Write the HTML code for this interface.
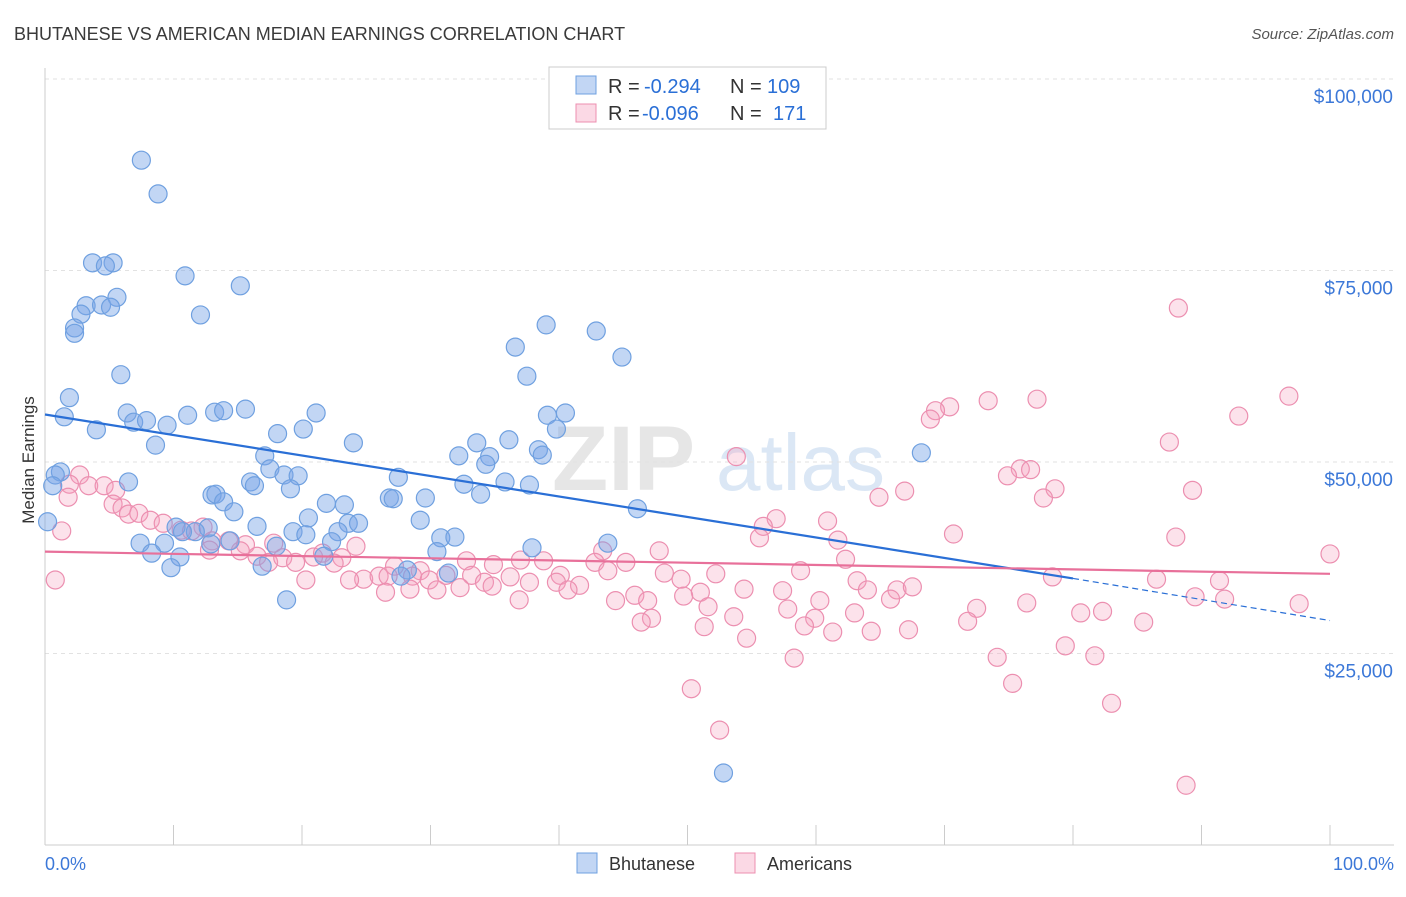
<!DOCTYPE html>
<html><head><meta charset="utf-8">
<style>
body{margin:0;background:#fff;font-family:"Liberation Sans",sans-serif;}
svg text{font-family:"Liberation Sans",sans-serif;}
</style></head>
<body>
<svg id="chart" width="1406" height="892" xmlns="http://www.w3.org/2000/svg">
<text x="14" y="40" font-size="18" fill="#3a3a3a">BHUTANESE VS AMERICAN MEDIAN EARNINGS CORRELATION CHART</text>
<text x="1394" y="39" font-size="15" fill="#555" text-anchor="end" font-style="italic">Source: ZipAtlas.com</text>
<g>
<text x="552" y="490" font-size="92" fill="#e6e6e6" font-family="Liberation Serif" font-weight="bold">ZIP</text>
<text x="716" y="490" font-size="80" fill="#dbe7f5">atlas</text>
</g>
<g id="grid"></g>
<g id="axes"></g>
<g id="points"></g>
<g id="trends"></g>
<text transform="translate(34,460) rotate(-90)" font-size="17" fill="#333" text-anchor="middle">Median Earnings</text>
<g>
<rect x="549" y="67" width="277" height="62" fill="#fff" stroke="#ccc"/>
<rect x="576" y="76" width="20" height="18" fill="rgba(120,165,230,0.45)" stroke="#6fa0e0"/>
<rect x="576" y="104" width="20" height="18" fill="rgba(245,160,190,0.4)" stroke="#ec8fb0"/>
<text x="608" y="93" font-size="20" fill="#333">R =</text>
<text x="644" y="93" font-size="20" fill="#2a6fd6">-0.294</text>
<text x="730" y="93" font-size="20" fill="#333">N =</text>
<text x="767" y="93" font-size="20" fill="#2a6fd6">109</text>
<text x="608" y="120" font-size="20" fill="#333">R =</text>
<text x="642" y="120" font-size="20" fill="#2a6fd6">-0.096</text>
<text x="730" y="120" font-size="20" fill="#333">N =</text>
<text x="773" y="120" font-size="20" fill="#2a6fd6">171</text>
</g>
<g>
<rect x="577" y="853" width="20" height="20" fill="rgba(120,165,230,0.45)" stroke="#6fa0e0"/>
<text x="609" y="870" font-size="18" fill="#333">Bhutanese</text>
<rect x="735" y="853" width="20" height="20" fill="rgba(245,160,190,0.4)" stroke="#ec8fb0"/>
<text x="767" y="870" font-size="18" fill="#333">Americans</text>
</g>
</svg>
<script>
const yTicks=[25000,50000,75000,100000];
const yTickLabels=["$25,000","$50,000","$75,000","$100,000"];
const xTickLabels=["0.0%","100.0%"];
const blueX=[7.5,8.8,3.7,5.3,4.7,10.9,15.2,5.6,3.2,4.4,5.1,2.8,12.1,2.3,2.3,39.0,42.9,36.6,44.9,5.9,37.5,1.9,1.5,6.4,13.2,15.6,13.9,11.1,21.1,6.9,7.9,9.5,39.1,40.5,4.0,18.1,20.1,39.8,8.6,24.0,33.6,36.1,38.4,38.7,34.6,32.2,34.3,17.1,68.2,1.2,0.8,0.6,6.5,17.5,18.6,19.7,27.5,35.8,37.7,16.0,16.3,19.1,32.6,33.9,13.0,13.3,13.9,21.9,23.3,26.8,27.1,29.6,14.7,46.1,20.5,29.2,23.6,24.4,0.2,10.2,12.7,16.5,19.3,20.3,22.8,11.7,10.7,30.8,31.9,7.4,9.3,12.9,14.4,18.0,22.3,43.8,37.9,8.3,10.5,30.5,16.9,21.7,28.2,27.7,9.8,31.4,18.8,52.8];
const blueY=[89.4,85.0,76.0,76.0,75.6,74.3,73.0,71.5,70.4,70.5,70.2,69.3,69.2,67.5,66.8,67.9,67.1,65.0,63.7,61.4,61.2,58.4,55.9,56.4,56.5,56.9,56.7,56.1,56.4,55.2,55.4,54.8,56.1,56.4,54.2,53.7,54.3,54.3,52.2,52.5,52.5,52.9,51.6,50.9,50.7,50.8,49.7,50.8,51.2,48.7,48.3,46.9,47.4,49.1,48.3,48.2,48.0,47.4,47.0,47.4,46.9,46.5,47.1,45.8,45.7,45.8,44.8,44.6,44.4,45.3,45.2,45.3,43.5,43.9,42.7,42.4,42.0,42.0,42.2,41.5,41.4,41.6,40.9,40.5,40.9,40.9,40.9,40.1,40.2,39.4,39.4,39.3,39.7,39.0,39.6,39.4,38.8,38.1,37.6,38.3,36.4,37.7,35.9,35.1,36.2,35.5,32.0,9.4];
const pinkX=[88.2,96.8,73.4,77.2,70.4,69.3,68.9,92.9,87.5,53.8,75.9,76.7,74.9,78.6,77.7,89.3,66.9,64.9,2.7,1.9,3.4,4.6,5.5,1.8,5.3,6.0,6.5,7.3,8.2,9.2,10.6,12.3,11.4,1.3,60.9,56.9,55.9,55.6,61.7,70.7,88.0,13.0,14.3,15.6,17.8,24.2,12.8,15.2,16.5,17.4,18.5,19.5,20.9,21.6,23.1,22.5,43.4,47.8,62.3,100,32.8,34.9,37.0,38.8,42.8,45.2,27.2,29.2,31.2,33.2,36.2,40.1,43.8,48.2,52.2,58.8,24.8,26.0,26.7,28.6,23.7,20.3,29.9,34.2,37.7,39.8,41.6,49.5,63.2,91.4,86.5,78.4,28.4,30.5,32.3,34.8,40.7,45.9,51.0,54.4,57.4,64.0,66.3,67.5,26.5,89.5,91.8,36.9,44.4,46.9,49.7,60.3,65.8,76.4,97.6,51.6,57.8,63.0,72.5,80.6,82.3,53.6,59.9,47.2,46.4,71.8,85.5,59.1,51.3,64.3,61.3,67.2,54.6,79.4,58.3,74.1,81.7,75.3,50.3,83.0,52.5,88.8,0.8];
const pinkY=[70.1,58.6,58.0,58.2,57.2,56.7,55.6,56.0,52.6,50.7,49.1,49.0,48.2,46.5,45.3,46.3,46.2,45.4,48.3,47.1,46.9,46.9,46.3,45.4,44.5,44.0,43.2,43.3,42.4,42.0,41.1,41.5,41.0,41.0,42.3,42.6,41.6,40.1,39.8,40.6,40.2,39.7,39.7,39.2,39.4,39.0,38.5,38.4,37.7,36.9,37.5,36.9,37.6,38.1,37.5,36.8,38.4,38.4,37.3,38.0,37.1,36.6,37.2,37.1,36.9,36.9,36.4,35.8,35.2,35.2,35.0,35.2,35.8,35.5,35.4,35.8,34.7,35.1,35.1,35.1,34.6,34.6,34.6,34.3,34.3,34.3,33.9,34.7,34.5,34.5,34.7,35.0,33.4,33.3,33.6,33.8,33.3,32.6,33.0,33.4,33.2,33.3,33.3,33.7,33.0,32.4,32.1,32.0,31.9,31.9,32.5,31.9,32.1,31.6,31.5,31.1,30.8,30.3,30.9,30.3,30.5,29.8,29.6,29.6,29.1,29.2,29.1,28.6,28.5,27.9,27.8,28.1,27.0,26.0,24.4,24.5,24.7,21.1,20.4,18.5,15.0,7.8,34.6];
const blueTrend=[[0,56.2],[80,34.8],[100,29.3]];
const pinkTrend=[[0,38.3],[100,35.4]];

const NS="http://www.w3.org/2000/svg";
const X0=45,X1=1330,Y0=845,YPER=191.5/25000;
const xs=p=>X0+(X1-X0)*p/100;
const ys=v=>Y0-v*YPER;
function mk(tag,attrs,parent){const e=document.createElementNS(NS,tag);for(const k in attrs)e.setAttribute(k,attrs[k]);parent.appendChild(e);return e;}
const grid=document.getElementById('grid'),axes=document.getElementById('axes'),pts=document.getElementById('points'),tr=document.getElementById('trends');
let gl=mk('line',{x1:45,x2:1394,y1:79,y2:79,stroke:'#ddd','stroke-dasharray':'4,4'},grid);


yTicks.forEach((v,i)=>{
 const l=mk('line',{x1:45,x2:1394,y1:ys(v),y2:ys(v),stroke:'#e2e2e2','stroke-dasharray':'4,4'},grid);
 
 
 const t=mk('text',{x:1393,y:ys(v)+24,'font-size':19,fill:'#3c78d8','text-anchor':'end'},axes);
 t.textContent=yTickLabels[i];
 
 
});
let ax=mk('line',{x1:45,x2:1394,y1:845,y2:845,stroke:'#ccc'},axes);


let ay=mk('line',{x1:45,x2:45,y1:68,y2:845,stroke:'#ccc'},axes);


for(let i=0;i<=10;i++){
 const tk=mk('line',{x1:xs(i*10),x2:xs(i*10),y1:825,y2:845,stroke:'#ccc'},axes);
 
 
}
const xl0=mk('text',{x:45,y:870,'font-size':18,fill:'#3c78d8'},axes);xl0.textContent=xTickLabels[0];


const xl1=mk('text',{x:1394,y:870,'font-size':18,fill:'#3c78d8','text-anchor':'end'},axes);xl1.textContent=xTickLabels[1];


pinkX.forEach((x,i)=>{
 const c=mk('circle',{cx:xs(x),cy:ys(pinkY[i]*1000),r:9,fill:'rgba(245,160,190,0.3)',stroke:'#ec8fb0','stroke-width':1.2},pts);
 
 
});
blueX.forEach((x,i)=>{
 const c=mk('circle',{cx:xs(x),cy:ys(blueY[i]*1000),r:9,fill:'rgba(120,165,230,0.45)',stroke:'#6fa0e0','stroke-width':1.2},pts);
 
 
});
let b1=mk('line',{x1:xs(blueTrend[0][0]),y1:ys(blueTrend[0][1]*1000),x2:xs(blueTrend[1][0]),y2:ys(blueTrend[1][1]*1000),stroke:'#2a6fd6','stroke-width':2.2},tr);


let b2=mk('line',{x1:xs(blueTrend[1][0]),y1:ys(blueTrend[1][1]*1000),x2:xs(blueTrend[2][0]),y2:ys(blueTrend[2][1]*1000),stroke:'#2a6fd6','stroke-width':1.2,'stroke-dasharray':'6,4'},tr);


let p1=mk('line',{x1:xs(pinkTrend[0][0]),y1:ys(pinkTrend[0][1]*1000),x2:xs(pinkTrend[1][0]),y2:ys(pinkTrend[1][1]*1000),stroke:'#e8709a','stroke-width':2.2},tr);


</script>
</body></html>
